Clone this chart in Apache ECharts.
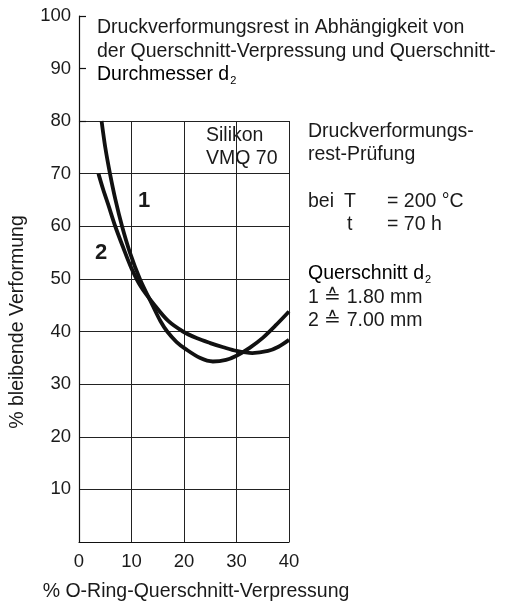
<!DOCTYPE html>
<html><head><meta charset="utf-8">
<script src="https://cdn.jsdelivr.net/npm/echarts@6/dist/echarts.min.js"></script>
<style>html,body{margin:0;padding:0;background:#fff}#c{width:505px;height:606px}</style>
</head><body><div id="c"></div>
<script>
// Curve 1: d2 = 1.80 mm
const curve1X = [4.3, 5.0, 5.9, 6.95, 8.2, 9.7, 11.6, 14.0, 15.5, 16.8, 18.6, 20.4, 23, 25.5, 28, 30, 32.5, 35, 37.5, 40];
const curve1Y = [80, 75, 70, 65, 60, 55, 50, 45, 42, 40, 38, 36.6, 35.0, 34.3, 34.6, 35.4, 36.9, 38.8, 41.2, 43.8];
// Curve 2: d2 = 7.00 mm
const curve2X = [3.7, 4.6, 5.6, 6.9, 8.4, 10.0, 11.8, 14.4, 17.0, 19.8, 22.5, 25, 27.5, 30, 33, 36, 38, 40];
const curve2Y = [70, 67, 64, 60, 56, 52, 48.5, 45, 42, 40, 38.7, 37.8, 37, 36.3, 35.9, 36.3, 37.1, 38.4];
const xTicks = [0, 10, 20, 30, 40];
const yTicksLower = [10, 20, 30, 40, 50, 60, 70, 80];
const yTicksUpper = [90, 100];

const FONT = '"Liberation Sans", Arial, Helvetica, sans-serif';
const FS = 19.5;
const TFS = 18.5;
const TXT = '#1a1a1a';

const chart = echarts.init(document.getElementById('c'), null, {renderer: 'canvas'});

function pairs(xs, ys) { return xs.map((x, i) => [x, ys[i]]); }

const rich = {
  n: {fontFamily: FONT, fontSize: FS, color: TXT},
  sub: {fontFamily: FONT, fontSize: 11, color: TXT, padding: [11, 0, 0, 1]}
};

function txt(x, y, text, extra) {
  return {
    type: 'text', x: x, y: y,
    style: Object.assign({text: text, fontFamily: FONT, fontSize: FS, fill: TXT, textVerticalAlign: 'middle'}, extra || {})
  };
}

const option = {
  animation: false,
  backgroundColor: '#fff',
  grid: [
    {left: 79, top: 121, width: 210, height: 421, containLabel: false},
    {left: 79, top: 16, width: 210, height: 105, containLabel: false}
  ],
  xAxis: [
    {
      type: 'value', gridIndex: 0, min: xTicks[0], max: xTicks[xTicks.length - 1], interval: 10,
      axisLine: {show: true, lineStyle: {color: '#111', width: 1.2}},
      axisTick: {show: false},
      axisLabel: {show: true, fontFamily: FONT, fontSize: TFS, color: TXT, margin: 10,
        formatter: v => xTicks.includes(v) ? String(v) : ''},
      splitLine: {show: true, lineStyle: {color: '#222', width: 1}}
    },
    {type: 'value', gridIndex: 1, min: 0, max: 40, show: false}
  ],
  yAxis: [
    {
      type: 'value', gridIndex: 0, min: 0, max: 80, interval: 10,
      axisLine: {show: true, lineStyle: {color: '#111', width: 1.2}},
      axisTick: {show: false},
      axisLabel: {fontFamily: FONT, fontSize: TFS, color: TXT, margin: 8,
        formatter: v => yTicksLower.includes(v) ? String(v) : ''},
      splitLine: {show: true, lineStyle: {color: '#222', width: 1}}
    },
    {
      type: 'value', gridIndex: 1, min: 80, max: 100, interval: 10,
      axisLine: {show: true, lineStyle: {color: '#111', width: 1.2}},
      axisTick: {show: true, inside: true, length: 7, lineStyle: {color: '#111', width: 1.2}},
      axisLabel: {fontFamily: FONT, fontSize: TFS, color: TXT, margin: 8,
        formatter: v => yTicksUpper.includes(v) ? String(v) : ''},
      splitLine: {show: false}
    }
  ],
  series: [
    {type: 'line', name: '1', xAxisIndex: 0, yAxisIndex: 0, data: pairs(curve1X, curve1Y),
      smooth: 0.3, symbol: 'none', lineStyle: {color: '#111', width: 3.8}, z: 5},
    {type: 'line', name: '2', xAxisIndex: 0, yAxisIndex: 0, data: pairs(curve2X, curve2Y),
      smooth: 0.3, symbol: 'none', lineStyle: {color: '#111', width: 3.8}, z: 5}
  ],
  graphic: [
    txt(97, 28, 'Druckverformungsrest in Abhängigkeit von'),
    txt(97, 51.5, 'der Querschnitt-Verpressung und Querschnitt-'),
    {type: 'text', x: 97, y: 75, style: {rich: rich, text: '{n|Durchmesser d}{sub|2}', textVerticalAlign: 'middle'}},
    txt(206, 136, 'Silikon'),
    txt(206, 159, 'VMQ 70'),
    txt(144, 201, '1', {fontWeight: 'bold', fontSize: 22, textAlign: 'center'}),
    txt(101, 253, '2', {fontWeight: 'bold', fontSize: 22, textAlign: 'center'}),
    txt(308, 132, 'Druckverformungs-'),
    txt(308, 155, 'rest-Prüfung'),
    txt(308, 202, 'bei'),
    txt(344, 202, 'T'),
    txt(387, 202, '= 200 °C'),
    txt(347, 225, 't'),
    txt(387, 225, '= 70 h'),
    {type: 'text', x: 308, y: 274, style: {rich: rich, text: '{n|Querschnitt d}{sub|2}', textVerticalAlign: 'middle'}},
    txt(308, 298, '1 ≙ 1.80 mm'),
    txt(308, 321, '2 ≙ 7.00 mm'),
    txt(196, 592, '% O-Ring-Querschnitt-Verpressung', {textAlign: 'center'}),
    {type: 'text', x: 18, y: 322, rotation: Math.PI / 2,
      style: {text: '% bleibende Verformung', fontFamily: FONT, fontSize: FS, fill: TXT,
        textAlign: 'center', textVerticalAlign: 'middle'}}
  ]
};
chart.setOption(option);
</script></body></html>
